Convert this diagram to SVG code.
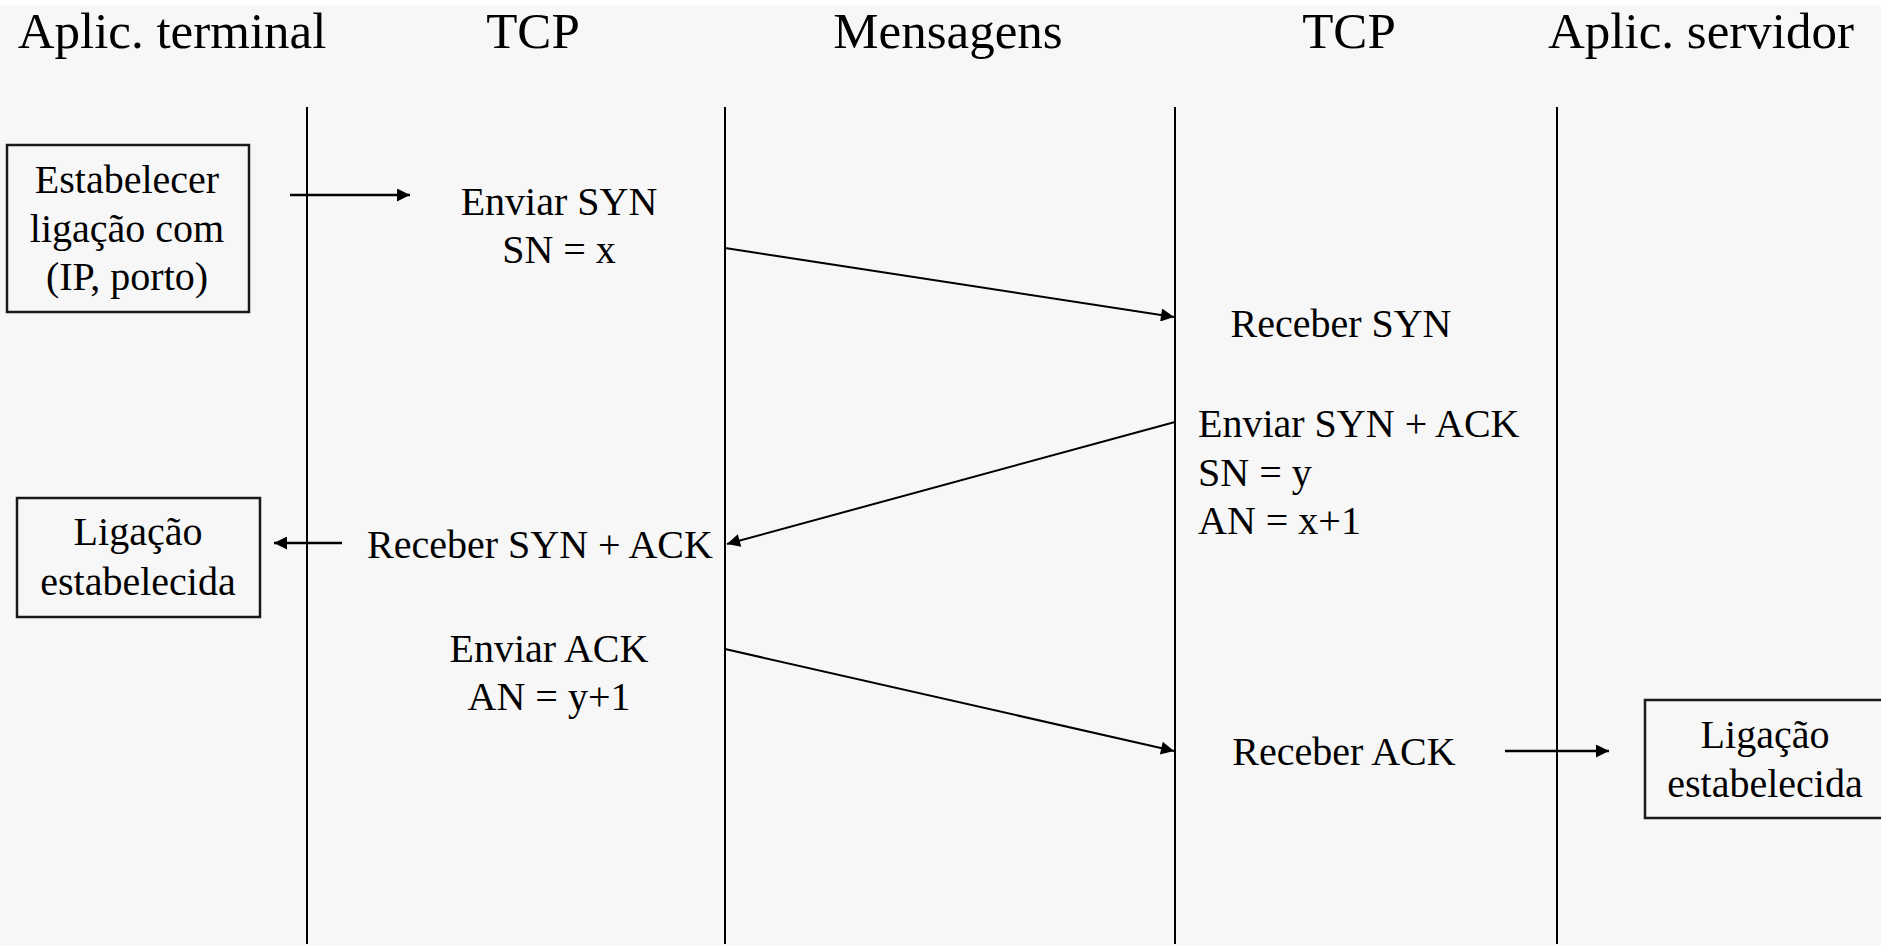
<svg xmlns="http://www.w3.org/2000/svg" width="1881" height="946" viewBox="0 0 1881 946">
<style>
text{font-family:"Liberation Serif","Times New Roman",serif;fill:#000}
.h{font-size:51px;text-anchor:middle}
.t{font-size:40px}
.c{text-anchor:middle}
.life{stroke:#000;stroke-width:2;fill:none}
.box{fill:none;stroke:#1a1a1a;stroke-width:2.5}
.msg{stroke:#000;stroke-width:2;fill:none}
.act{stroke:#000;stroke-width:2.5;fill:none}
</style>
<defs>
<marker id="ah" viewBox="0 0 10 10" refX="10" refY="5" markerWidth="17" markerHeight="13" markerUnits="userSpaceOnUse" orient="auto">
<path d="M0,0 L10,5 L0,10 Z" fill="#000"/>
</marker>
</defs>
<rect x="0" y="0" width="1881" height="946" fill="#f7f7f7"/>
<rect x="0" y="0" width="1881" height="5" fill="#ffffff"/>
<g id="headers">
<text class="h" x="172" y="48">Aplic. terminal</text>
<text class="h" x="533" y="48">TCP</text>
<text class="h" x="948" y="48">Mensagens</text>
<text class="h" x="1349" y="48">TCP</text>
<text class="h" x="1701" y="48">Aplic. servidor</text>
</g>
<g id="lifelines">
<line class="life" x1="307" y1="107" x2="307" y2="944"/>
<line class="life" x1="725" y1="107" x2="725" y2="944"/>
<line class="life" x1="1175" y1="107" x2="1175" y2="944"/>
<line class="life" x1="1557" y1="107" x2="1557" y2="944"/>
</g>
<g id="box-estabelecer">
<rect class="box" x="7" y="145" width="242" height="167"/>
<text class="t c" x="127" y="193">Estabelecer</text>
<text class="t c" x="127" y="242">ligação com</text>
<text class="t c" x="127" y="290">(IP, porto)</text>
</g>
<g id="enviar-syn">
<text class="t c" x="559" y="215">Enviar SYN</text>
<text class="t c" x="559" y="263">SN = x</text>
</g>
<g id="receber-syn">
<text class="t c" x="1341" y="337">Receber SYN</text>
</g>
<g id="enviar-synack">
<text class="t" x="1198" y="437">Enviar SYN + ACK</text>
<text class="t" x="1198" y="486">SN = y</text>
<text class="t" x="1198" y="534">AN = x+1</text>
</g>
<g id="receber-synack">
<text class="t c" x="540" y="558">Receber SYN + ACK</text>
</g>
<g id="box-ligacao-1">
<rect class="box" x="17" y="498" width="243" height="119"/>
<text class="t c" x="138" y="545">Ligação</text>
<text class="t c" x="138" y="595">estabelecida</text>
</g>
<g id="enviar-ack">
<text class="t c" x="549" y="662">Enviar ACK</text>
<text class="t c" x="549" y="710">AN = y+1</text>
</g>
<g id="receber-ack">
<text class="t c" x="1344" y="765">Receber ACK</text>
</g>
<g id="box-ligacao-2">
<rect class="box" x="1645" y="700" width="260" height="118"/>
<text class="t c" x="1765" y="748">Ligação</text>
<text class="t c" x="1765" y="797">estabelecida</text>
</g>
<g id="connectors">
<line class="act" x1="290" y1="195" x2="410" y2="195" marker-end="url(#ah)"/>
<line class="msg" x1="725" y1="248" x2="1174" y2="317" marker-end="url(#ah)"/>
<line class="msg" x1="1175" y1="422" x2="727" y2="544" marker-end="url(#ah)"/>
<line class="act" x1="342" y1="543" x2="274" y2="543" marker-end="url(#ah)"/>
<line class="msg" x1="725" y1="649" x2="1174" y2="751" marker-end="url(#ah)"/>
<line class="act" x1="1505" y1="751" x2="1609" y2="751" marker-end="url(#ah)"/>
</g>
</svg>
